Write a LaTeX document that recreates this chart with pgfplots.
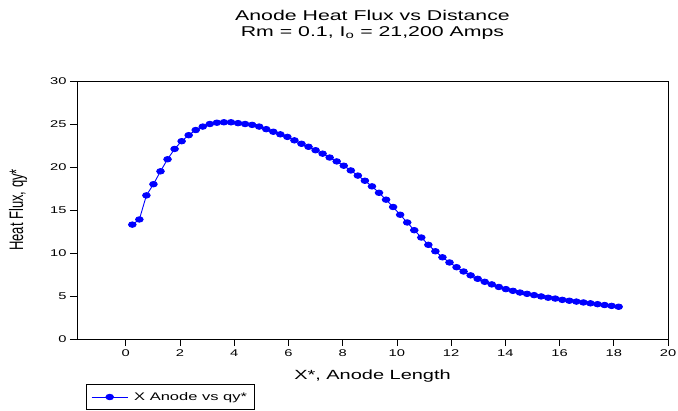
\documentclass[border=0pt]{standalone}
\usepackage{pgfplots}
\pgfplotsset{compat=1.18}
\usepackage{fontspec}
\setmainfont{Liberation Sans}[FakeStretch=1.5]
\newfontfamily\ylabfont{Liberation Sans}[FakeStretch=0.667]
\pgfplotstableread{
x y
0.24 13.3
0.50 13.9
0.76 16.7
1.02 18.0
1.28 19.5
1.54 20.9
1.80 22.1
2.06 23.0
2.32 23.7
2.58 24.3
2.84 24.7
3.10 25.0
3.36 25.15
3.62 25.2
3.88 25.2
4.14 25.1
4.40 25.0
4.66 24.9
4.92 24.7
5.18 24.4
5.44 24.1
5.70 23.8
5.96 23.5
6.22 23.1
6.48 22.7
6.74 22.35
7.00 21.95
7.26 21.55
7.52 21.1
7.78 20.65
8.04 20.15
8.30 19.6
8.56 19.0
8.82 18.4
9.08 17.75
9.34 17.0
9.60 16.2
9.86 15.35
10.12 14.45
10.38 13.55
10.64 12.65
10.90 11.8
11.16 10.95
11.42 10.2
11.68 9.5
11.94 8.9
12.20 8.35
12.46 7.85
12.72 7.4
12.98 7.0
13.24 6.65
13.50 6.35
13.76 6.05
14.02 5.8
14.28 5.6
14.54 5.4
14.80 5.25
15.06 5.1
15.32 4.95
15.58 4.8
15.84 4.7
16.10 4.55
16.36 4.45
16.62 4.35
16.88 4.25
17.14 4.15
17.40 4.05
17.66 3.95
17.92 3.85
18.18 3.75
}\anode
\begin{document}
\begin{tikzpicture}
\begin{axis}[name=ax, scale only axis, width=591pt, height=258pt,
  xmin=-1.8, xmax=20, ymin=0, ymax=30,
  xtick={0,2,...,20}, ytick={0,5,...,30},
  tick align=outside, major tick length=7pt,
  xtick pos=bottom, ytick pos=left,
  tick style={black, line width=0.8pt},
  axis line style={line width=0.8pt},
  ticklabel style={font=\fontsize{9.8}{11}\selectfont},
  /pgf/number format/assume math mode=true,
  xlabel={X*, Anode Length},
  xlabel style={font=\fontsize{13.3}{15}\selectfont, at={(axis description cs:0.5,0)}, anchor=center, yshift=-37pt},
  ylabel={\ylabfont Heat Flux, qy*},
  ylabel style={font=\fontsize{19.5}{21}\selectfont, at={(axis description cs:-0.0998,0.5)}, anchor=center},
  legend style={at={(axis description cs:0.0152,-0.1744)}, anchor=north west, draw=black, line width=0.6pt,
    font=\fontsize{11}{12}\selectfont, inner xsep=5pt, inner ysep=6pt},
  legend cell align=left,
  legend image code/.code={\draw[#1, mark repeat=2, mark phase=2] plot coordinates {(0pt,0pt) (18pt,0pt) (36pt,0pt)};},
]
\addplot[blue, line width=0.9pt, mark=*, mark size=3.8pt, mark options={yscale=0.72}] table {\anode};
\addlegendentry{\hspace{4pt}X Anode vs qy*\hspace{13pt}}
\end{axis}
\node[font=\fontsize{14.2}{16}\selectfont] at ([yshift=66pt]ax.north) {Anode Heat Flux vs Distance};
\node[font=\fontsize{14.2}{16}\selectfont] at ([yshift=48pt]ax.north) {Rm = 0.1, I\textsubscript{o} = 21,200 Amps};
\pgfresetboundingbox
\path[use as bounding box] ([xshift=-77pt,yshift=-72pt]ax.south west) rectangle ++(678pt,411pt);
\end{tikzpicture}
\end{document}
